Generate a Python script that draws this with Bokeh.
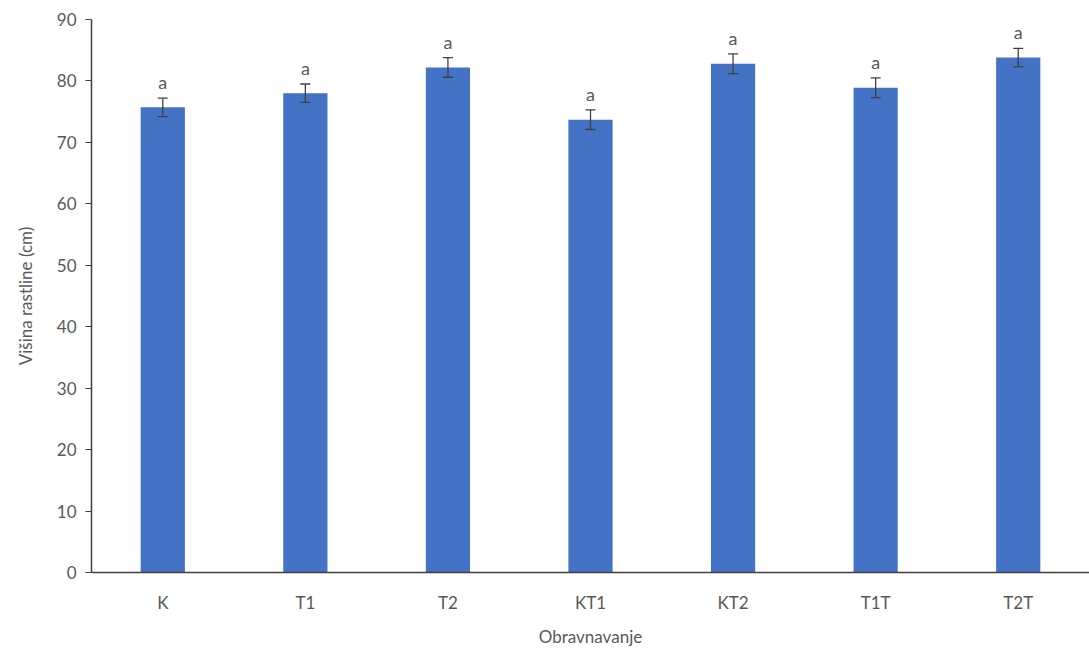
from bokeh.plotting import figure
from bokeh.models import ColumnDataSource, Range1d, FactorRange, Whisker, FixedTicker
from bokeh.core.properties import value
from bokeh.embed import file_html
from bokeh.resources import INLINE

categories = ["K", "T1", "T2", "KT1", "KT2", "T1T", "T2T"]
heights = [75.7, 78.0, 82.2, 73.7, 82.8, 78.9, 83.8]
errors = [1.5, 1.5, 1.6, 1.6, 1.6, 1.6, 1.5]
letters = ["a", "a", "a", "a", "a", "a", "a"]
y_ticks = [0, 10, 20, 30, 40, 50, 60, 70, 80, 90]

FONT = "Lato"
GREY = "#595959"

src = ColumnDataSource(dict(
    cat=categories, h=heights,
    lo=[h - e for h, e in zip(heights, errors)],
    hi=[h + e for h, e in zip(heights, errors)],
    lab=letters,
))

p = figure(width=1089, height=657, output_backend="svg", toolbar_location=None,
           x_range=FactorRange(*categories, range_padding=0),
           y_range=Range1d(0, 90),
           min_border_left=91, min_border_right=0, min_border_top=19, min_border_bottom=85)
p.background_fill_color = "white"
p.border_fill_color = "white"
p.outline_line_color = None
p.xgrid.grid_line_color = None
p.ygrid.grid_line_color = None

p.vbar(x="cat", top="h", width=0.31, source=src, fill_color="#4472C4", line_color=None)

w = Whisker(source=src, base="cat", lower="lo", upper="hi", line_color="#404040",
            line_width=1.3, level="overlay")
w.upper_head.size = 10
w.lower_head.size = 10
w.upper_head.line_color = "#404040"
w.lower_head.line_color = "#404040"
w.upper_head.line_width = 1.3
w.lower_head.line_width = 1.3
p.add_layout(w)

p.text(x="cat", y="hi", text="lab", source=src, text_align="center", text_baseline="bottom",
       y_offset=-5, text_font=value(FONT), text_font_size="18px", text_color=GREY)

# y axis
p.yaxis.ticker = FixedTicker(ticks=y_ticks)
p.yaxis.axis_line_color = "#404040"
p.yaxis.axis_line_width = 1.5
p.yaxis.major_tick_line_color = "#404040"
p.yaxis.major_tick_out = 6
p.yaxis.major_tick_in = 0
p.yaxis.minor_tick_line_color = None
p.yaxis.major_label_text_font = FONT
p.yaxis.major_label_text_font_size = "17px"
p.yaxis.major_label_text_color = GREY
p.yaxis.major_label_standoff = 9
p.yaxis.axis_label = "Višina rastline (cm)"
p.yaxis.axis_label_text_font = FONT
p.yaxis.axis_label_text_font_size = "17px"
p.yaxis.axis_label_text_font_style = "normal"
p.yaxis.axis_label_text_color = GREY
p.yaxis.axis_label_standoff = 18

# x axis
p.xaxis.axis_line_color = "#404040"
p.xaxis.axis_line_width = 1.5
p.xaxis.major_tick_line_color = None
p.xaxis.minor_tick_line_color = None
p.xaxis.major_label_text_font = FONT
p.xaxis.major_label_text_font_size = "17px"
p.xaxis.major_label_text_color = GREY
p.xaxis.major_label_standoff = 13
p.xaxis.axis_label = "Obravnavanje"
p.xaxis.axis_label_text_font = FONT
p.xaxis.axis_label_text_font_size = "17px"
p.xaxis.axis_label_text_font_style = "normal"
p.xaxis.axis_label_text_color = GREY
p.xaxis.axis_label_standoff = 10

open("out.html", "w").write(file_html(p, INLINE))
